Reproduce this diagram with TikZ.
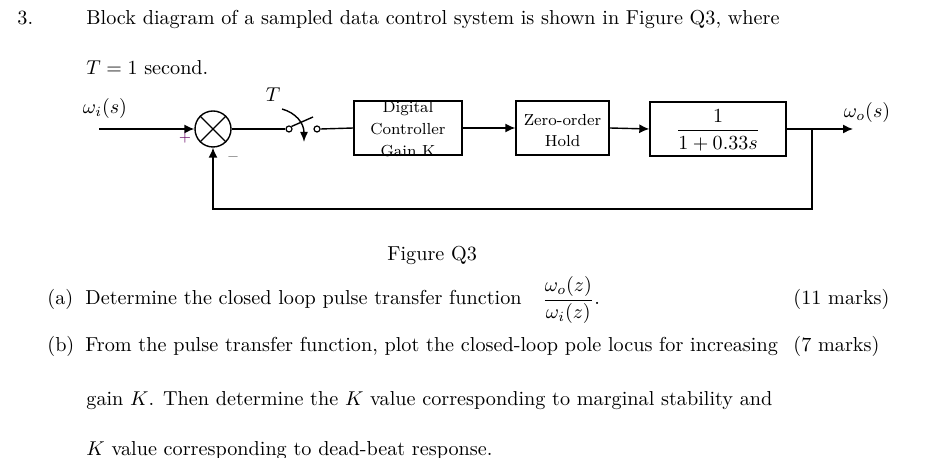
\documentclass[tikz,border=0pt]{standalone}
\usepackage{amsmath}
\usepackage{xcolor}
\usetikzlibrary{arrows.meta}

\definecolor{plusviolet}{rgb}{0.42,0.05,0.42}
\definecolor{minusgrey}{rgb}{0.45,0.45,0.45}

\begin{document}
\begin{tikzpicture}[x=0.5pt,y=-0.5pt,
                    every node/.style={inner sep=0pt},
                    txt/.style={anchor=base west,font=\fontsize{10.1}{12.2}\selectfont},
                    lbl/.style={font=\fontsize{10.1}{12.2}\selectfont},
                    wire/.style={line width=0.7pt},
                    arrow/.style={wire,-{Latex[length=5pt,width=4.5pt]}},
                    block/.style={draw,line width=0.7pt,minimum height=27pt,font=\fontsize{8}{10.6}\selectfont},
                    contact/.style={circle,draw,line width=0.6pt,minimum size=3pt}]
                    \useasboundingbox (0,0) rectangle (951,458);

                    \node[txt] (num) at (17,25) {3.};
                    \node[txt] (line1) at (86,25) {Block diagram of a sampled data control system is shown in Figure Q3, where};
                    \node[txt] (line2) at (86,75) {$T = 1$ second.};

                    \node[circle,draw,line width=0.7pt,minimum size=18pt] (sum) at (213,129) {};
                    \draw[wire] (sum.45) -- (sum.225) (sum.135) -- (sum.315);
                    \node[contact] (swa) at (289,129) {};
                    \node[contact] (swb) at (317,129) {};
                    \draw[wire] (swa.north east) -- (313,117);
                    \draw[wire,-{Latex[length=5pt,width=4pt]}] (282,109) .. controls (296,113) and (304,123) .. (304,142);
                    \node[lbl] (tlbl) at (273,95) {$T$};

                    \node[block,minimum width=54pt,font=\fontsize{8}{11.2}\selectfont] (ctrl) at (408,128) {\smash{\raisebox{-3pt}{\begin{tabular}{@{}c@{}}Digital\\Controller\\Gain K\end{tabular}}}};
                    \node[block,minimum width=46.5pt] (zoh) at (562.5,128) {\smash{\raisebox{-3.7pt}{\begin{tabular}{@{}c@{}}Zero-order\\Hold\end{tabular}}}};
                    \node[block,minimum width=68pt] (plant) at (718,129) {\smash{\raisebox{-3.4pt}{\fontsize{10.1}{12.2}\selectfont$\dfrac{1}{1+0.33s}$}}};

                    \coordinate (in) at (99,129);
                    \coordinate (br) at (812,129);
                    \coordinate (fb) at (812,209);
                    \coordinate (out) at (853,129);

                    \draw[arrow] (in) -- (sum.west);
                    \draw[wire] (sum.east) -- (swa.west);
                    \draw[wire] (swb.east) -- (ctrl.west);
                    \draw[arrow] (ctrl.east) -- (zoh.west);
                    \draw[arrow] (zoh.east) -- (plant.west);
                    \draw[arrow] (plant.east) -- (out);
                    \draw[arrow] (br) -- (fb) -| (sum.south);

                    \node[lbl] (win) at (105,109) {$\omega_i(s)$};
                    \node[lbl] (wout) at (867,113) {$\omega_o(s)$};
                    \node[font=\scriptsize,text=plusviolet] (plus) at (185,138) {$+$};
                    \node[font=\scriptsize,text=minusgrey] (minus) at (233,157) {$-$};

                    \node[txt] (fig) at (387,261) {Figure Q3};

                    \node[txt] (pa) at (47,305) {(a)};
                    \node[txt] (qa) at (85,305) {Determine the closed loop pulse transfer function};
                    \node[txt] (frac) at (542,305) {$\dfrac{\omega_o(z)}{\omega_i(z)}$.};
                    \node[txt] (ma) at (793,305) {(11 marks)};

                    \node[txt] (pb) at (47,352) {(b)};
                    \node[txt] (qb) at (85,352) {From the pulse transfer function, plot the closed-loop pole locus for increasing};
                    \node[txt] (mb) at (793,352) {(7 marks)};
                    \node[txt] (qc) at (86,406) {gain $K$. Then determine the $K$ value corresponding to marginal stability and};
                    \node[txt] (qd) at (86,455) {$K$ value corresponding to dead-beat response.};
                \end{tikzpicture}
\end{document}
